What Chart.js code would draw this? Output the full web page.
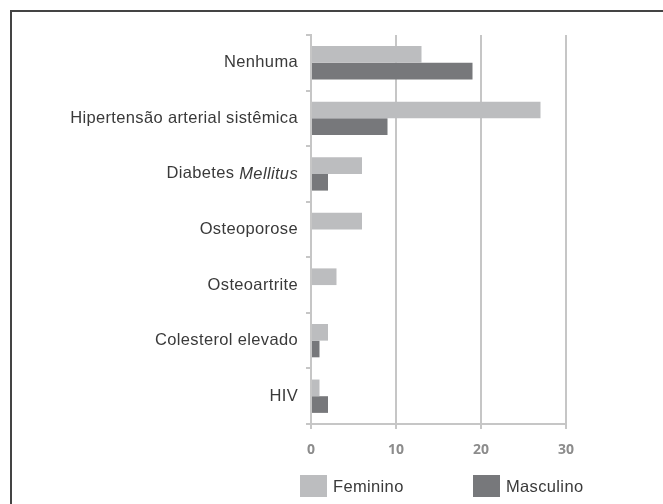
<!DOCTYPE html>
<html>
<head>
<meta charset="utf-8">
<script src="https://cdn.jsdelivr.net/npm/chart.js@4"></script>
<style>
  html, body { margin: 0; padding: 0; background: #fff; overflow: hidden; }
  #wrap { position: relative; width: 663px; height: 504px; }
  #frame { position: absolute; left: 10px; top: 10px; width: 700px; height: 600px;
           border-top: 2px solid #444; border-left: 2px solid #444; box-sizing: border-box; }
  #c { position: absolute; left: 0; top: 0; }
</style>
</head>
<body>
<div id="wrap">
  <div id="frame"></div>
  <canvas id="c" width="663" height="504"></canvas>
</div>
<script>
// Comorbidades por sexo
const categories = [
  'Nenhuma',
  'Hipertensão arterial sistêmica',
  'Diabetes Mellitus',
  'Osteoporose',
  'Osteoartrite',
  'Colesterol elevado',
  'HIV'
];
const feminino  = [13, 27, 6, 6, 3, 2, 1];
const masculino = [19, 9, 2, 0, 0, 1, 2];
const xTicks = [0, 10, 20, 30];
const italicWords = ['Mellitus'];

const LABEL_FONT = '16.5px "Liberation Sans", Arial, sans-serif';
const LABEL_FONT_IT = 'italic 16.5px "Liberation Sans", Arial, sans-serif';
const LABEL_SPACING = '0.35px';
const TEXT_COLOR = '#3a3a3a';

// Category labels with italic words, drawn at the category scale's own positions
const categoryLabels = {
  id: 'categoryLabels',
  afterDraw(chart) {
    const ctx = chart.ctx;
    const y = chart.scales.y;
    const right = y.right - 13;
    ctx.save();
    ctx.fillStyle = TEXT_COLOR;
    ctx.textBaseline = 'middle';
    ctx.letterSpacing = LABEL_SPACING;
    chart.data.labels.forEach((label, i) => {
      const py = y.getPixelForValue(i);
      const words = label.split(' ');
      const parts = words.map((w, k) => ({
        text: (k < words.length - 1 ? w + ' ' : w),
        italic: italicWords.includes(w)
      }));
      let total = 0;
      parts.forEach(p => { ctx.font = p.italic ? LABEL_FONT_IT : LABEL_FONT; p.w = ctx.measureText(p.text).width; total += p.w; });
      let x = right - total;
      ctx.textAlign = 'left';
      parts.forEach(p => { ctx.font = p.italic ? LABEL_FONT_IT : LABEL_FONT; ctx.fillText(p.text, x, py); x += p.w; });
    });
    ctx.restore();
  }
};

// Legend row below the axis
const bottomLegend = {
  id: 'bottomLegend',
  afterDraw(chart) {
    const ctx = chart.ctx;
    const starts = [300, 473];
    ctx.save();
    ctx.textBaseline = 'middle';
    ctx.font = LABEL_FONT;
    ctx.letterSpacing = LABEL_SPACING;
    chart.data.datasets.forEach((ds, i) => {
      const x0 = starts[i];
      ctx.fillStyle = ds.backgroundColor;
      ctx.fillRect(x0, 475, 27, 22);
      ctx.fillStyle = TEXT_COLOR;
      ctx.fillText(ds.label, x0 + 33, 487);
    });
    ctx.restore();
  }
};

new Chart(document.getElementById('c'), {
  type: 'bar',
  data: {
    labels: categories,
    datasets: [
      { label: 'Feminino',  data: feminino,  backgroundColor: '#bcbdbf', categoryPercentage: 0.6, barPercentage: 1 },
      { label: 'Masculino', data: masculino, backgroundColor: '#77787b', categoryPercentage: 0.6, barPercentage: 1 }
    ]
  },
  options: {
    indexAxis: 'y',
    responsive: false,
    animation: false,
    layout: { padding: { top: 35, right: 97, left: 0, bottom: 0 } },
    plugins: { legend: { display: false }, tooltip: { enabled: false } },
    scales: {
      x: {
        min: 0, max: 30,
        afterBuildTicks(scale) { scale.ticks = xTicks.map(v => ({ value: v })); },
        afterFit(scale) { scale.height = 80; },
        grid: { color: '#c6c6c6', lineWidth: 2, tickLength: 5, drawTicks: true },
        border: { display: true, color: '#c6c6c6', width: 2 },
        ticks: { color: '#8c8c8c', padding: 13, font: { family: '"Open Sans", sans-serif', size: 14, weight: 'bold' } }
      },
      y: {
        afterFit(scale) { scale.width = 311; },
        grid: { drawOnChartArea: false, color: '#c6c6c6', lineWidth: 2, tickLength: 5, offset: true },
        border: { display: true, color: '#c6c6c6', width: 2 },
        ticks: { display: false }
      }
    }
  },
  plugins: [categoryLabels, bottomLegend]
});
</script>
</body>
</html>
